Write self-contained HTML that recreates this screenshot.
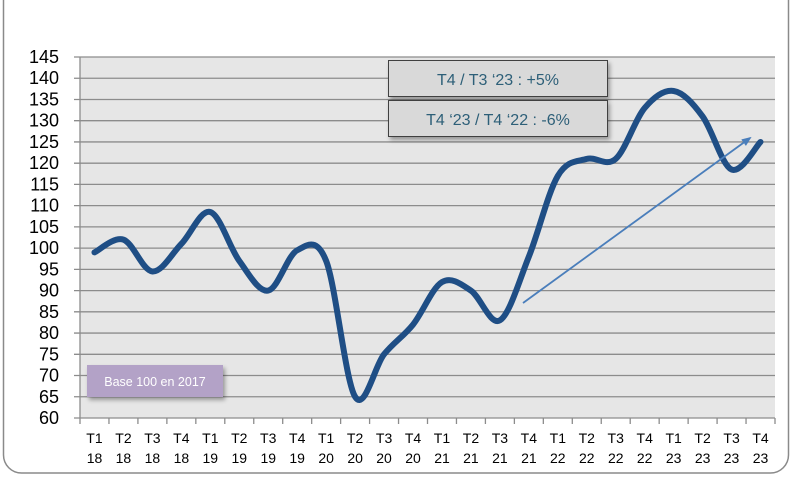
<!DOCTYPE html>
<html><head><meta charset="utf-8"><style>
body{margin:0;background:#fff;width:795px;height:478px;overflow:hidden;font-family:"Liberation Sans",sans-serif}
</style></head><body>
<svg id="s" width="795" height="478" xmlns="http://www.w3.org/2000/svg">
<defs>
<filter id="sh" x="-10%" y="-10%" width="130%" height="150%"><feDropShadow dx="2" dy="3" stdDeviation="2" flood-color="#000" flood-opacity="0.35"/></filter>
<marker id="ah" markerWidth="10" markerHeight="8" refX="8" refY="4" orient="auto" markerUnits="userSpaceOnUse"><path d="M0,0 L10,4 L0,8 Z" fill="#4a7ebb"/></marker>
</defs>
<rect x="3.5" y="-20" width="785" height="493" rx="18" fill="#fff" stroke="#8a8a8a" stroke-width="1.5"/>
<rect x="80" y="57" width="695" height="361" fill="#e6e6e6"/>
<g id="grid" stroke="#8c8c8c" stroke-width="1.3"></g>
<g id="ylab" font-size="18" fill="#000" text-anchor="end"></g>
<g id="xlab" font-size="14" fill="#000" text-anchor="middle"></g>
<path id="line" fill="none" stroke="#1f4e85" stroke-width="6" stroke-linecap="round" stroke-linejoin="round"/>
<line x1="523" y1="303" x2="750" y2="138" stroke="#4a7ebb" stroke-width="1.8" marker-end="url(#ah)"/>
<g filter="url(#sh)">
<rect x="388.5" y="60.5" width="219" height="36" fill="#d9d9d9" stroke="#404040" stroke-width="1"/>
<rect x="388.5" y="100.5" width="219" height="36" fill="#d9d9d9" stroke="#404040" stroke-width="1"/>
<rect x="87" y="365" width="136" height="32" fill="#b3a2c7"/>
</g>
<text x="498" y="85" font-size="16" fill="#2d5f78" text-anchor="middle">T4 / T3 ‘23 : +5%</text>
<text x="498" y="125" font-size="16" fill="#2d5f78" text-anchor="middle">T4 ‘23 / T4 ‘22 : -6%</text>
<text x="155" y="386" font-size="12.5" fill="#fff" text-anchor="middle">Base 100 en 2017</text>
</svg>
<script>
var NS="http://www.w3.org/2000/svg";
function el(p,t,a,txt){var e=document.createElementNS(NS,t);for(var k in a)e.setAttribute(k,a[k]);if(txt)e.textContent=txt;document.getElementById(p).appendChild(e);}
function Y(v){return 418-(v-60)*361/85;}
for(var v=60;v<=145;v+=5){var y=Y(v);el("grid","line",{x1:74,x2:775,y1:y,y2:y});el("ylab","text",{x:59,y:y+6},String(v));}
el("grid","line",{x1:80,x2:80,y1:57,y2:418});
var w=695/24;
for(var i=0;i<=24;i++){var x=80+i*w;el("grid","line",{x1:x,x2:x,y1:418,y2:424});}
var yrs=["18","19","20","21","22","23"];
for(var i=0;i<24;i++){var x=80+(i+0.5)*w;el("xlab","text",{x:x,y:443},"T"+(i%4+1));el("xlab","text",{x:x,y:463},yrs[Math.floor(i/4)]);}
var d=[99,102,94.5,101,108.5,97,90,99.5,97,65,75,82,92,90,83,98,117,121,121,133,137,131,118.5,125];
var P=d.map(function(v,i){return [80+(i+0.5)*w,Y(v)];});
var s="M"+P[0][0]+","+P[0][1];
for(var i=0;i<P.length-1;i++){var p0=P[i-1]||P[i],p1=P[i],p2=P[i+1],p3=P[i+2]||P[i+1],t=6;
s+=" C"+(p1[0]+(p2[0]-p0[0])/t)+","+(p1[1]+(p2[1]-p0[1])/t)+" "+(p2[0]-(p3[0]-p1[0])/t)+","+(p2[1]-(p3[1]-p1[1])/t)+" "+p2[0]+","+p2[1];}
document.getElementById("line").setAttribute("d",s);
</script>
</body></html>
